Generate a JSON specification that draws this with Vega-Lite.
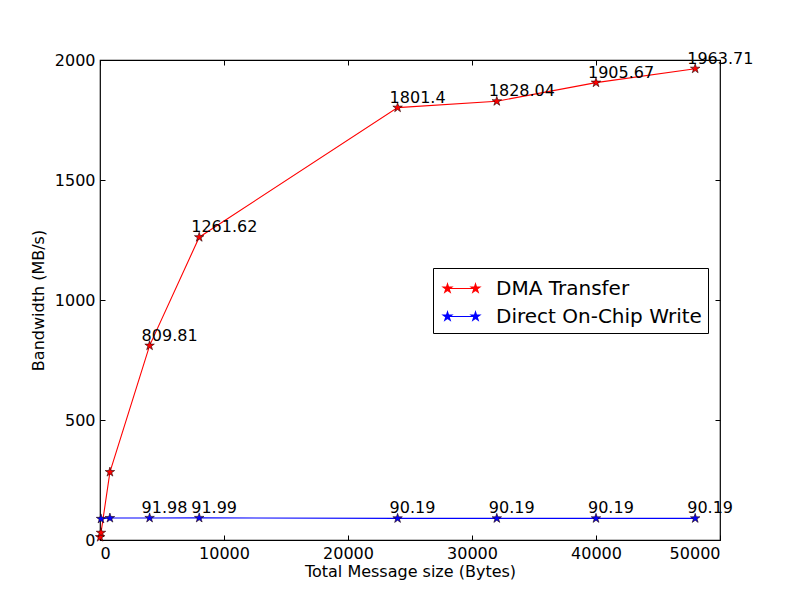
{
  "$schema": "https://vega.github.io/schema/vega-lite/v6.json",
  "width": 620,
  "height": 480,
  "autosize": {"type": "none"},
  "padding": {"left": 100, "top": 60, "right": 80, "bottom": 60},
  "background": "white",
  "config": {
    "font": "DejaVu Sans",
    "view": {"stroke": "black", "strokeWidth": 1.2},
    "axis": {"grid": false, "domain": false, "tickColor": "black", "labelColor": "black", "titleColor": "black", "labelFont": "DejaVu Sans", "titleFont": "DejaVu Sans", "labelFontSize": 16, "titleFontSize": 16, "titleFontWeight": "normal", "tickSize": -5, "labelPadding": 10, "format": "d"}
  },
  "data": {
    "values": [
      {"size": 8, "bw": 12, "series": "DMA Transfer", "label": null},
      {"size": 80, "bw": 30, "series": "DMA Transfer", "label": null},
      {"size": 800, "bw": 283, "series": "DMA Transfer", "label": null},
      {"size": 4000, "bw": 809.81, "series": "DMA Transfer", "label": "809.81"},
      {"size": 8000, "bw": 1261.62, "series": "DMA Transfer", "label": "1261.62"},
      {"size": 24000, "bw": 1801.4, "series": "DMA Transfer", "label": "1801.4"},
      {"size": 32000, "bw": 1828.04, "series": "DMA Transfer", "label": "1828.04"},
      {"size": 40000, "bw": 1905.67, "series": "DMA Transfer", "label": "1905.67"},
      {"size": 48000, "bw": 1963.71, "series": "DMA Transfer", "label": "1963.71"},
      {"size": 80, "bw": 88, "series": "Direct On-Chip Write", "label": null},
      {"size": 800, "bw": 91.5, "series": "Direct On-Chip Write", "label": null},
      {"size": 4000, "bw": 91.98, "series": "Direct On-Chip Write", "label": "91.98"},
      {"size": 8000, "bw": 91.99, "series": "Direct On-Chip Write", "label": "91.99"},
      {"size": 24000, "bw": 90.19, "series": "Direct On-Chip Write", "label": "90.19"},
      {"size": 32000, "bw": 90.19, "series": "Direct On-Chip Write", "label": "90.19"},
      {"size": 40000, "bw": 90.19, "series": "Direct On-Chip Write", "label": "90.19"},
      {"size": 48000, "bw": 90.19, "series": "Direct On-Chip Write", "label": "90.19"}
    ]
  },
  "resolve": {"axis": {"x": "independent", "y": "independent"}},
  "layer": [
    {
      "mark": {"type": "line", "strokeWidth": 1.1},
      "encoding": {
        "x": {"field": "size", "type": "quantitative", "scale": {"domain": [0, 50000], "nice": false}, "axis": {"orient": "bottom", "values": [0, 10000, 20000, 30000, 40000, 50000], "title": "Total Message size (Bytes)", "titlePadding": 2}},
        "y": {"field": "bw", "type": "quantitative", "scale": {"domain": [0, 2000], "nice": false}, "axis": {"orient": "left", "values": [0, 500, 1000, 1500, 2000], "title": "Bandwidth (MB/s)", "titlePadding": 8}},
        "color": {"field": "series", "type": "nominal", "title": null, "scale": {"domain": ["DMA Transfer", "Direct On-Chip Write"], "range": ["#ff0000", "#0000ff"]}, "legend": {
          "orient": "none", "legendX": 333, "legendY": 208,
          "strokeColor": "black", "fillColor": "white", "padding": 6,
          "symbolType": "M-1.037,0L1.037,0M-1.037,-0.333L-0.962,-0.103L-0.72,-0.103L-0.916,0.039L-0.841,0.269L-1.037,0.127L-1.233,0.269L-1.158,0.039L-1.354,-0.103L-1.112,-0.103ZM1.037,-0.333L1.112,-0.103L1.354,-0.103L1.158,0.039L1.233,0.269L1.037,0.127L0.841,0.269L0.916,0.039L0.72,-0.103L0.962,-0.103Z",
          "symbolSize": 729, "symbolStrokeWidth": 1.2, "symbolOffset": 8, "labelOffset": 20, "labelLimit": 400,
          "labelFontSize": 20, "labelFont": "DejaVu Sans", "labelColor": "black", "rowPadding": 3,
          "encode": {"symbols": {"update": {"stroke": {"scale": "color", "field": "value"}, "fill": {"scale": "color", "field": "value"}, "opacity": {"value": 1}}}}
        }}
      }
    },
    {
      "mark": {"type": "point", "filled": true, "opacity": 1, "size": 100, "shape": "M0,-1L0.223,-0.307L0.951,-0.309L0.361,0.117L0.588,0.809L0,0.38L-0.588,0.809L-0.361,0.117L-0.951,-0.309L-0.223,-0.307Z", "stroke": "#220000", "strokeWidth": 0.6},
      "encoding": {
        "x": {"field": "size", "type": "quantitative", "axis": null},
        "y": {"field": "bw", "type": "quantitative", "axis": null},
        "color": {"field": "series", "type": "nominal", "title": null}
      }
    },
    {
      "transform": [{"filter": "datum.label != null"}],
      "mark": {"type": "text", "align": "left", "baseline": "alphabetic", "dx": -8, "dy": -5, "fontSize": 16, "color": "black", "font": "DejaVu Sans"},
      "encoding": {
        "x": {"field": "size", "type": "quantitative", "axis": {"orient": "top", "labels": false, "title": null, "values": [0, 10000, 20000, 30000, 40000, 50000]}},
        "y": {"field": "bw", "type": "quantitative", "axis": {"orient": "right", "labels": false, "title": null, "values": [0, 500, 1000, 1500, 2000]}},
        "text": {"field": "label"}
      }
    }
  ]
}
